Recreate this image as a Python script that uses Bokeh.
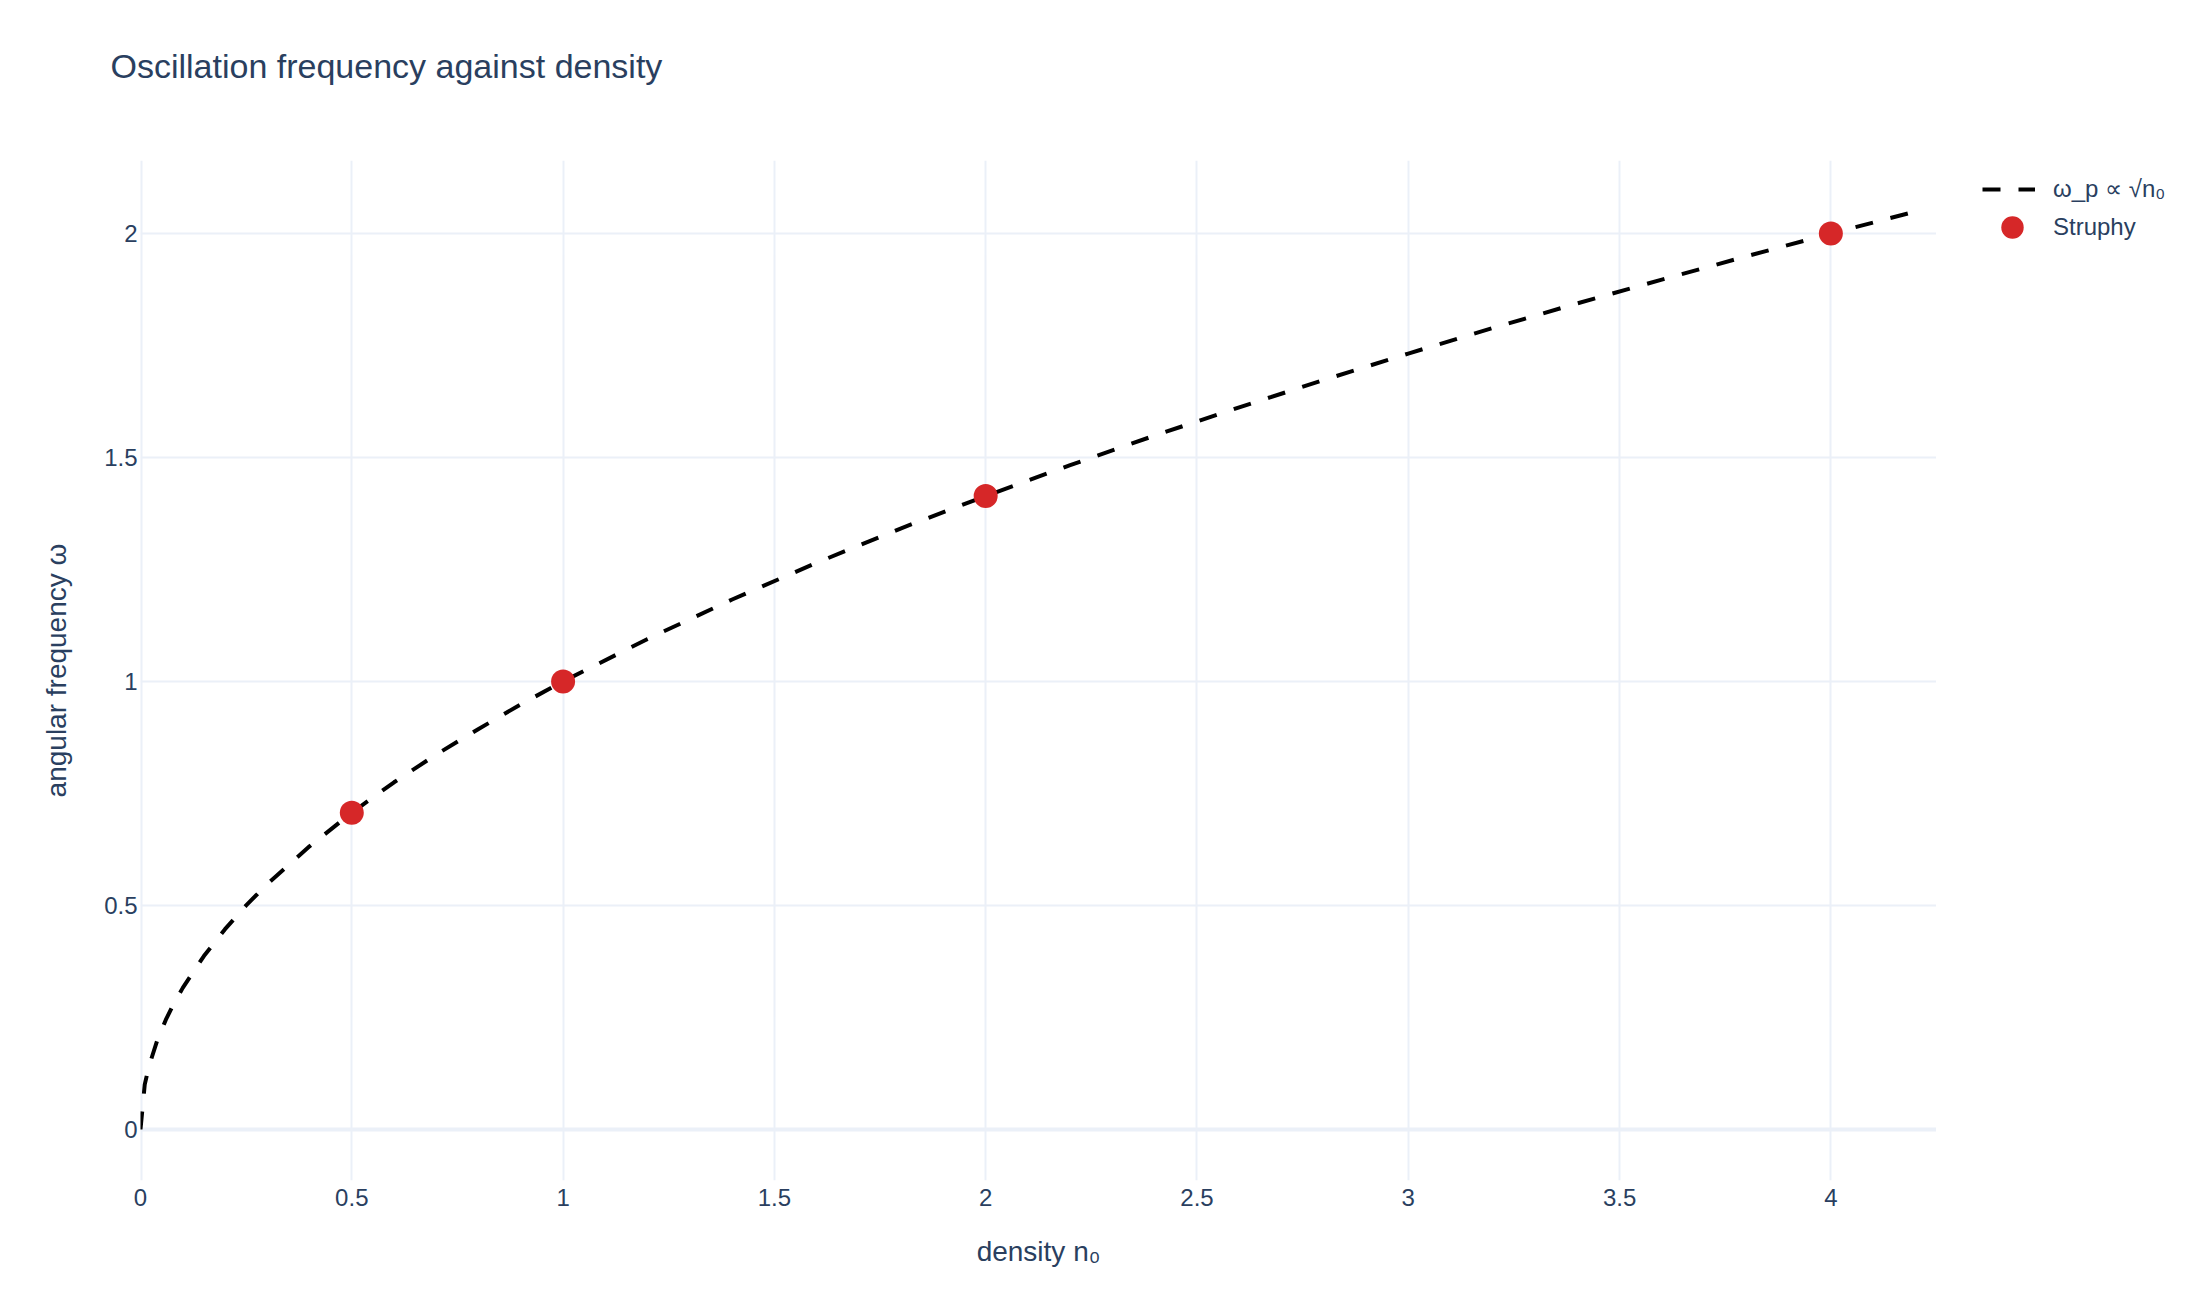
from bokeh.plotting import figure
from bokeh.layouts import row
from bokeh.models import Range1d, FixedTicker, Span, Legend, LegendItem, Title
from bokeh.embed import file_html
from bokeh.resources import INLINE

# ---- data ----
theory_n = [0, 0.01, 0.02, 0.04, 0.06, 0.08, 0.1, 0.15, 0.2, 0.25, 0.3, 0.4, 0.5, 0.6,
            0.7, 0.8, 0.9, 1.0, 1.2, 1.4, 1.6, 1.8, 2.0, 2.2, 2.4, 2.6, 2.8, 3.0, 3.2,
            3.4, 3.6, 3.8, 4.0, 4.2]
theory_w = [0, 0.1, 0.141, 0.2, 0.245, 0.283, 0.316, 0.387, 0.447, 0.5, 0.548, 0.632,
            0.707, 0.775, 0.837, 0.894, 0.949, 1.0, 1.095, 1.183, 1.265, 1.342, 1.414,
            1.483, 1.549, 1.612, 1.673, 1.732, 1.789, 1.844, 1.897, 1.949, 2.0, 2.049]
struphy_n = [0.5, 1.0, 2.0, 4.0]
struphy_w = [0.707, 1.0, 1.414, 2.0]

x_ticks = [0, 0.5, 1, 1.5, 2, 2.5, 3, 3.5, 4]
x_tick_labels = ["0", "0.5", "1", "1.5", "2", "2.5", "3", "3.5", "4"]
y_ticks = [0, 0.5, 1, 1.5, 2]
y_tick_labels = ["0", "0.5", "1", "1.5", "2"]

title_text = "Oscillation frequency against density"
x_title = "density n\u2080"
y_title = "angular frequency \u03c9"
theory_name = "\u03c9_p \u221d \u221an\u2080"
struphy_name = "Struphy"

# ---- style ----
FONT = "Liberation Sans"
TXT = "#2a3f5f"
GRID = "#EBF0F8"
RED = "#d62728"
LINE_STYLE = dict(line_color="black", line_width=4, line_dash="18 18")
MARK_STYLE = dict(size=24, fill_color=RED, line_color=None)

W, H = 2184, 1284
FL, FR, FT, FB = 140, 1936, 160, 1180

p = figure(width=FR, height=H, output_backend="svg", toolbar_location=None, title=None,
           x_range=Range1d(0, 4.25), y_range=Range1d(-0.114, 2.163),
           min_border_left=FL, min_border_right=0,
           min_border_top=FT, min_border_bottom=H - FB)
p.outline_line_color = None
p.background_fill_color = "white"
p.border_fill_color = "white"

# spacer nearest the frame, then the real title above it
p.add_layout(Title(text=" ", text_font_size="1px", standoff=68), "above")
p.add_layout(Title(text=title_text, text_font=FONT, text_font_size="34px",
                   text_font_style="normal", text_color=TXT, offset=-30, standoff=10),
             "above")

for ax in (p.xaxis[0], p.yaxis[0]):
    ax.axis_line_color = None
    ax.major_tick_line_color = None
    ax.minor_tick_line_color = None
    ax.major_tick_out = 0
    ax.major_tick_in = 0
    ax.major_label_text_font = FONT
    ax.major_label_text_font_size = "24px"
    ax.major_label_text_color = TXT
    ax.axis_label_text_font = FONT
    ax.axis_label_text_font_size = "28px"
    ax.axis_label_text_font_style = "normal"
    ax.axis_label_text_color = TXT

p.xaxis.ticker = FixedTicker(ticks=x_ticks)
p.yaxis.ticker = FixedTicker(ticks=y_ticks)
p.xaxis.major_label_overrides = {t: l for t, l in zip(x_ticks, x_tick_labels)}
p.yaxis.major_label_overrides = {t: l for t, l in zip(y_ticks, y_tick_labels)}
p.xaxis.axis_label = x_title
p.yaxis.axis_label = y_title
p.xaxis.major_label_standoff = 8
p.yaxis.major_label_standoff = 3
p.xaxis.axis_label_standoff = 27
p.yaxis.axis_label_standoff = 29

p.xgrid.grid_line_color = GRID
p.ygrid.grid_line_color = GRID
p.xgrid.grid_line_width = 2
p.ygrid.grid_line_width = 2

p.add_layout(Span(location=0, dimension="width", line_color=GRID, line_width=4, level="underlay"))
p.add_layout(Span(location=0, dimension="height", line_color=GRID, line_width=4, level="underlay"))

r_line = p.line(theory_n, theory_w, **LINE_STYLE)
r_pts = p.scatter(struphy_n, struphy_w, **MARK_STYLE)

# ---- legend panel to the right of the plot area (frame aligned with the plot's) ----
LW = W - FR
q = figure(width=LW, height=H, output_backend="svg", toolbar_location=None, title=None,
           x_range=Range1d(0, 1), y_range=Range1d(0, 1),
           x_axis_location=None, y_axis_location=None,
           min_border_left=0, min_border_right=0, min_border_top=FT, min_border_bottom=H - FB)
q.outline_line_color = None
q.grid.visible = False
q.background_fill_color = "white"
q.border_fill_color = "white"
# hidden copies of the two series, used only to draw the legend swatches
q_line = q.line(theory_n, theory_w, visible=False, **LINE_STYLE)
q_pts = q.scatter(struphy_n, struphy_w, visible=False, **MARK_STYLE)

common = dict(padding=0, margin=0, border_line_color=None, background_fill_alpha=0,
              label_text_font=FONT, label_text_font_size="24px", label_text_color=TXT)
leg_a = Legend(items=[LegendItem(label=theory_name, renderers=[q_line])],
               location=(46, FB - 170 - 38), glyph_width=53, glyph_height=38,
               label_height=38, label_standoff=18, **common)
leg_b = Legend(items=[LegendItem(label=struphy_name, renderers=[q_pts])],
               location=(48, FB - 198 - 58), glyph_width=56, glyph_height=58,
               label_height=58, label_standoff=13, **common)
q.add_layout(leg_a, "center")
q.add_layout(leg_b, "center")

layout = row(p, q, spacing=0)
open("out.html", "w").write(file_html(layout, INLINE))
